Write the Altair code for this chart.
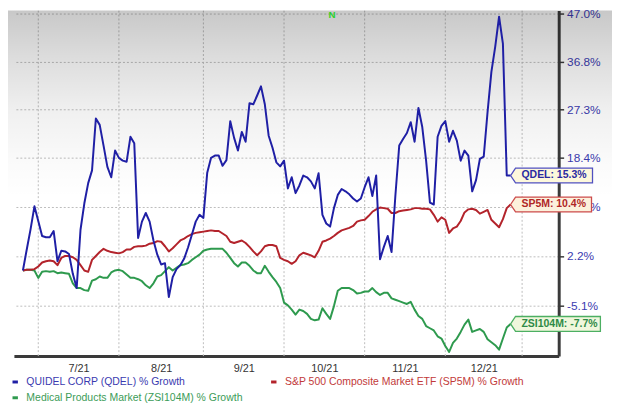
import json
import altair as alt
import pandas as pd

# ---------------- data ----------------
holidays = ["2021-07-05", "2021-09-06", "2021-11-25", "2021-12-24"]
trading_days = [d.strftime("%Y-%m-%d") for d in pd.bdate_range("2021-06-25", "2021-12-27")
                if d.strftime("%Y-%m-%d") not in holidays]

# % growth since 2021-06-25, one value per trading day
qdel = [0.0, 3.2, 6.4, 10.1, 7.7, 5.3, 5.1, 5.1, 6.1, 1.4,
        3.0, 2.9, 2.5, -0.5, -2.6, 6.3, 10.6, 14.0, 16.2, 25.6,
        24.4, 20.6, 16.8, 15.0, 19.7, 18.4, 17.9, 17.7, 22.2, 21.0,
        5.0, 7.6, 9.0, 7.6, 4.6, 2.4, 0.9, 1.1, -3.9, -1.0,
        0.2, 0.8, 1.8, 3.5, 5.5, 7.6, 8.7, 8.2, 15.8, 18.4,
        18.8, 18.8, 17.0, 18.0, 25.1, 22.0, 19.7, 23.1, 21.3, 28.5,
        28.3, 30.0, 31.8, 28.3, 22.4, 20.2, 17.6, 16.9, 17.9, 13.1,
        15.0, 12.3, 13.6, 15.3, 15.0, 14.3, 13.1, 15.7, 8.7, 7.3,
        6.8, 9.8, 12.0, 13.0, 12.6, 12.1, 11.4, 10.9, 11.4, 13.3,
        15.0, 11.8, 15.3, 1.7, 3.6, 5.3, 2.8, 11.9, 20.6, 21.8,
        22.9, 24.9, 21.3, 27.6, 24.0, 17.9, 10.7, 10.4, 22.2, 24.2,
        25.1, 21.3, 23.3, 21.5, 17.9, 19.7, 18.8, 12.6, 14.5, 18.2,
        18.6, 26.8, 34.7, 39.9, 46.3, 40.5, 15.3, 15.3]

sp5m = [0.0, 0.1, 0.1, 0.2, 0.6, 1.2, 1.4, 1.5, 1.4, 0.8,
        1.9, 2.2, 2.2, 2.0, 1.6, 0.8, 0.0, -0.2, 1.6, 2.2,
        2.8, 3.3, 3.0, 2.8, 2.7, 2.6, 2.8, 3.2, 3.2, 3.6,
        3.7, 3.7, 3.8, 4.1, 4.2, 4.5, 4.4, 3.7, 2.9, 3.4,
        4.0, 4.6, 4.9, 5.3, 5.6, 5.8, 5.9, 6.0, 6.1, 6.2,
        6.1, 6.1, 5.7, 5.3, 4.4, 4.2, 4.4, 4.6, 4.2, 3.6,
        2.9, 2.3, 2.9, 3.7, 3.9, 3.9, 3.7, 1.9, 1.6, 1.4,
        1.0, 1.4, 2.3, 2.7, 2.5, 2.3, 2.0, 3.0, 4.4, 4.6,
        4.9, 5.3, 5.8, 6.2, 6.4, 6.6, 6.9, 7.6, 7.8, 7.9,
        8.5, 9.2, 9.6, 9.9, 9.8, 9.7, 9.0, 9.0, 9.3, 9.4,
        9.5, 9.6, 9.8, 9.8, 9.7, 9.7, 9.6, 8.7, 7.6, 8.3,
        7.9, 5.8, 6.5, 6.8, 7.7, 9.1, 9.6, 9.7, 9.5, 8.9,
        9.2, 9.5, 7.9, 7.3, 6.7, 8.0, 9.8, 10.4]

zsi = [0.0, 0.1, 0.1, 0.0, -1.1, -0.2, -0.1, -0.2, -0.1, -0.4,
       -0.3, -0.4, -0.5, -1.9, -2.6, -2.6, -2.9, -3.0, -1.5, -1.3,
       -0.9, -1.1, -1.1, -0.3, 0.0, 0.1, -0.1, -0.6, -1.1, -1.1,
       -1.3, -1.6, -2.2, -2.6, -1.9, -0.9, -0.7, -0.1, 0.5, 0.0,
       0.4, 0.8, 0.9, 1.1, 1.6, 2.0, 2.4, 3.0, 3.2, 3.3,
       3.3, 3.3, 3.3, 2.7, 1.9, 1.1, 0.6, 1.2, 1.2, 0.7,
       0.0, -0.4, -0.4, 0.7, -0.2, -1.0, -1.7, -2.6, -4.7, -5.1,
       -5.7, -6.4, -5.7, -5.9, -6.3, -7.0, -7.2, -7.1, -5.5, -6.3,
       -7.0, -5.2, -3.0, -2.6, -2.6, -2.6, -2.9, -3.4, -3.3, -3.1,
       -3.1, -2.6, -3.2, -3.6, -3.3, -3.3, -4.1, -4.3, -4.5, -4.7,
       -4.9, -4.6, -5.7, -6.6, -7.0, -8.0, -8.3, -8.6, -9.4, -9.7,
       -10.7, -11.5, -10.3, -9.7, -8.8, -7.8, -7.1, -8.8, -8.6, -8.4,
       -8.8, -9.8, -10.2, -10.6, -11.2, -9.7, -8.2, -7.7]

series_names = ["QUIDEL CORP (QDEL) % Growth",
                "S&P 500 Composite Market ETF (SP5M) % Growth",
                "Medical Products Market (ZSI104M) % Growth"]
short_names = ["QDEL", "SP5M", "ZSI104M"]
series_values = [qdel, sp5m, zsi]

y_ticks = [0.949, 1.022, 1.100, 1.184, 1.273, 1.368, 1.470]   # 1 + growth
month_grid_idx = [4, 25, 47, 68, 89, 110, 130]
month_label_pos = [14.5, 36, 57.5, 78.5, 99.5, 120]
month_labels = ["7/21", "8/21", "9/21", "10/21", "11/21", "12/21"]
news_dates = ["2021-10-20"]
news_text = ["N"]

# ---------------- styles ----------------
FONT = "Liberation Sans"
line_colors = ["#1f1fa5", "#b3232b", "#2e9a4e"]
legend_colors = ["#3a3ab0", "#c23a3a", "#3c9c58"]
tag_fills = ["#fdf8dc", "#fcf1dc", "#f0f7dc"]
tag_borders = ["#5050c0", "#cc4b4b", "#4caf62"]
tag_text = ["#2a2aa0", "#b02626", "#2e8a46"]
tag_widths = [83, 82, 91]
tag_paths = [f"M0,0L5,-7.5L{w},-7.5L{w},7.5L5,7.5Z" for w in tag_widths]
legend_pos = [(-4, 371), (258, 371), (-4, 387)]

W, H = 552, 350
xscale = alt.Scale(domain=[-2.34, 139.53], nice=False, zero=False)
yscale = alt.Scale(type="log", domain=[0.87961, 1.47653], nice=False)

x_label_expr = f"{json.dumps(month_labels)}[indexof({json.dumps(month_label_pos)}, datum.value)]"
xaxis = alt.Axis(values=month_label_pos, labelExpr=x_label_expr, grid=False, ticks=False,
                 domainColor="#3a3a3a", domainWidth=3, labelColor="#333333",
                 labelFont=FONT, labelFontSize=11, labelPadding=7, labelFlush=False,
                 title=None)
yaxis = alt.Axis(orient="right", values=y_ticks,
                 labelExpr="replace(format(datum.value - 1, '.1%'), '\u2212', '-')",
                 grid=True, gridColor="#bdbdbd", gridDash=[2, 2], gridWidth=1,
                 domainColor="#3a3a3a", domainWidth=3, tickColor="#3a3a3a",
                 tickSize=5, tickWidth=1.5, labelColor="#3c3cb0", labelFont=FONT,
                 labelFontSize=12, labelPadding=3, title=None)

# ---------------- layers ----------------
grid_df = pd.DataFrame({"g": month_grid_idx})
vgrid = alt.Chart(grid_df).mark_rule(color="#bdbdbd", strokeDash=[2, 2], strokeWidth=1).encode(
    x=alt.X("g:Q", scale=xscale, axis=xaxis))

shade = alt.Chart(pd.DataFrame({"a": [0]})).mark_rect(
    fill=alt.LinearGradient(
        gradient="linear",
        stops=[alt.GradientStop(color="rgba(0,0,0,0.215)", offset=0),
               alt.GradientStop(color="rgba(0,0,0,0.13)", offset=0.27),
               alt.GradientStop(color="rgba(0,0,0,0.06)", offset=0.54),
               alt.GradientStop(color="rgba(0,0,0,0.02)", offset=0.8),
               alt.GradientStop(color="rgba(0,0,0,0)", offset=1)],
        x1=0, x2=0, y1=0, y2=1)
).encode(x=alt.value(-6), x2=alt.value(606), y=alt.value(0), y2=alt.value(190))

lines = []
for k in [2, 1, 0]:
    df = pd.DataFrame({"idx": list(range(len(trading_days))), "date": trading_days,
                       "pct": series_values[k], "series": series_names[k]})
    lx, ly = legend_pos[k]
    lines.append(
        alt.Chart(df).mark_line(strokeWidth=2, strokeJoin="round").encode(
            x=alt.X("idx:Q", scale=xscale, axis=xaxis),
            y=alt.Y("ratio:Q", scale=yscale, axis=yaxis),
            color=alt.Color("series:N",
                            scale=alt.Scale(domain=[series_names[k]], range=[line_colors[k]]),
                            legend=alt.Legend(orient="none", legendX=lx, legendY=ly, title=None,
                                              labelColor=legend_colors[k], labelFont=FONT,
                                              labelFontSize=10.6, labelLimit=400,
                                              symbolType="stroke", symbolSize=30,
                                              symbolStrokeWidth=3, labelOffset=6, padding=0)),
        ).transform_calculate(ratio="1 + datum.pct / 100")
    )

last_df = pd.DataFrame({
    "idx": [len(trading_days) - 1] * 3,
    "short": short_names,
    "pct": [v[-1] for v in series_values],
    "label": [f"{s}: {v[-1]:.1f}%" for s, v in zip(short_names, series_values)],
})

tags = alt.Chart(last_df).mark_point(size=4, filled=True, opacity=1, strokeWidth=1.3).encode(
    x=alt.X("idx:Q", scale=xscale, axis=xaxis),
    y=alt.Y("ratio:Q", scale=yscale, axis=yaxis),
    shape=alt.Shape("short:N", scale=alt.Scale(domain=short_names, range=tag_paths), legend=None),
    fill=alt.Fill("short:N", scale=alt.Scale(domain=short_names, range=tag_fills), legend=None),
    stroke=alt.Stroke("short:N", scale=alt.Scale(domain=short_names, range=tag_borders), legend=None),
).transform_calculate(ratio="1 + datum.pct / 100")

tag_labels = alt.Chart(last_df).mark_text(align="left", baseline="middle", dx=11,
                                          font=FONT, fontSize=10.6, fontWeight="bold").encode(
    x=alt.X("idx:Q", scale=xscale, axis=xaxis),
    y=alt.Y("ratio:Q", scale=yscale, axis=yaxis),
    text="label:N",
    color=alt.Color("short:N", scale=alt.Scale(domain=short_names, range=tag_text), legend=None),
).transform_calculate(ratio="1 + datum.pct / 100")

news_df = pd.DataFrame({"idx": [trading_days.index(d) for d in news_dates], "t": news_text})
news = alt.Chart(news_df).mark_text(color="#2bd12b", font=FONT, fontSize=10, fontWeight="bold",
                                    baseline="top", dx=-2).encode(
    x=alt.X("idx:Q", scale=xscale, axis=xaxis),
    y=alt.value(0),
    text="t:N")

chart = alt.layer(vgrid, shade, *lines, tags, tag_labels, news).resolve_scale(
    color="independent"
).properties(
    width=W, height=H,
    autosize=alt.AutoSizeParams(type="none"),
    padding={"left": 6, "top": 0, "right": 54, "bottom": 48},
    background="white",
).configure_view(stroke=None)

chart.save("out.html", embed_options={"renderer": "svg", "actions": False})
